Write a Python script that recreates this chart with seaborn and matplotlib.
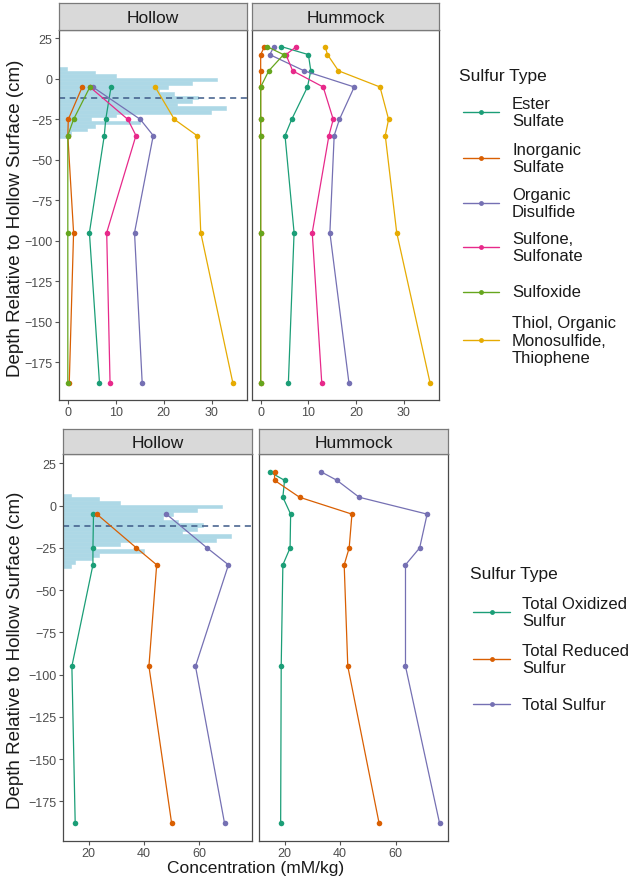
import numpy as np
import pandas as pd
import matplotlib
matplotlib.use("Agg")
import matplotlib.pyplot as plt
from matplotlib.lines import Line2D
import seaborn as sns

sns.set_theme(style="white")
plt.rcParams['font.family'] = ['Liberation Sans', 'DejaVu Sans']

# ---------------- data ----------------
hollow_depth = [-5, -25, -35, -95, -188]
hummock_depth = [20, 15, 5, -5, -25, -35, -95, -188]

species_types = ["Ester\nSulfate", "Inorganic\nSulfate", "Organic\nDisulfide",
                 "Sulfone,\nSulfonate", "Sulfoxide",
                 "Thiol, Organic\nMonosulfide,\nThiophene"]

hollow_ester = [9.0, 7.9, 7.6, 4.5, 6.6]
hollow_inorganic = [3.0, 0.1, 0.0, 1.2, 0.3]
hollow_disulfide = [5.2, 15.1, 17.8, 13.9, 15.5]
hollow_sulfone = [4.6, 12.5, 14.2, 8.1, 8.8]
hollow_sulfoxide = [4.6, 1.2, 0.0, 0.0, 0.0]
hollow_thiol = [18.2, 22.2, 26.9, 27.7, 34.4]

hummock_ester = [4.3, 10.0, 10.5, 9.8, 6.5, 5.1, 7.0, 5.8]
hummock_inorganic = [0.8, 0.0, 0.0, 0.0, 0.0, 0.0, 0.0, 0.0]
hummock_disulfide = [2.8, 1.9, 9.1, 19.6, 16.5, 15.4, 14.5, 18.5]
hummock_sulfone = [7.5, 5.3, 6.7, 13.1, 15.2, 14.3, 10.8, 12.8]
hummock_sulfoxide = [1.3, 4.8, 1.7, 0.0, 0.0, 0.0, 0.0, 0.0]
hummock_thiol = [13.5, 14.0, 16.3, 25.0, 26.8, 26.1, 28.5, 35.5]

total_types = ["Total Oxidized\nSulfur", "Total Reduced\nSulfur", "Total Sulfur"]
hollow_oxidized = [21.8, 21.6, 21.6, 14.0, 15.2]
hollow_reduced = [23.0, 37.3, 44.6, 41.8, 50.0]
hollow_total = [48.1, 62.8, 70.5, 58.6, 69.1]
hummock_oxidized = [14.6, 20.0, 19.4, 22.2, 22.0, 19.4, 18.8, 18.6]
hummock_reduced = [16.4, 16.4, 25.4, 44.3, 43.3, 41.5, 42.8, 54.1]
hummock_total = [33.2, 38.9, 46.9, 71.4, 68.7, 63.6, 63.6, 75.9]

# hollow surface elevation distribution (relative frequency, top bin first)
surface_bin_top = 7.2
surface_bin_width = 2.2
surface_freq = [0.04, 0.19, 0.30, 0.84, 0.71, 0.58, 0.53, 0.61, 0.74, 0.71,
                0.63, 0.89, 0.81, 0.30, 0.17, 0.43, 0.19, 0.15, 0.06, 0.04]
mean_hollow_surface = -12

palette6 = dict(zip(species_types, sns.color_palette("Dark2", 6)))
palette3 = dict(zip(total_types, sns.color_palette("Dark2", 3)))


def long_frame(depths, series, names, site):
    rows = []
    for name, vals in zip(names, series):
        for d, v in zip(depths, vals):
            rows.append({"Site": site, "Depth": d, "Type": name, "Conc": v})
    return pd.DataFrame(rows)


top_df = pd.concat([
    long_frame(hollow_depth, [hollow_ester, hollow_inorganic, hollow_disulfide,
                              hollow_sulfone, hollow_sulfoxide, hollow_thiol],
               species_types, "Hollow"),
    long_frame(hummock_depth, [hummock_ester, hummock_inorganic, hummock_disulfide,
                               hummock_sulfone, hummock_sulfoxide, hummock_thiol],
               species_types, "Hummock"),
])
bot_df = pd.concat([
    long_frame(hollow_depth, [hollow_oxidized, hollow_reduced, hollow_total],
               total_types, "Hollow"),
    long_frame(hummock_depth, [hummock_oxidized, hummock_reduced, hummock_total],
               total_types, "Hummock"),
])

# ---------------- layout ----------------
W, H = 635, 879
fig = plt.figure(figsize=(W / 100, H / 100), dpi=100)
fig.patch.set_facecolor("white")


def px_axes(x0, y0, x1, y1):
    return fig.add_axes([x0 / W, 1 - y1 / H, (x1 - x0) / W, (y1 - y0) / H])


def expanded(vals, frac=0.05):
    lo, hi = min(vals), max(vals)
    pad = (hi - lo) * frac
    return lo - pad, hi + pad


border = "#4a4a4a"
tick_col = "#4d4d4d"


def style_panel(ax, show_y):
    for s in ax.spines.values():
        s.set_visible(True)
        s.set_color(border)
        s.set_linewidth(0.9)
    ax.grid(False)
    ax.set_facecolor("white")
    ax.tick_params(axis="both", which="both", length=3, width=0.8,
                   color="#555555", labelsize=9, labelcolor=tick_col, pad=2,
                   bottom=True, left=show_y)
    ax.tick_params(axis="x", pad=1.5)
    if not show_y:
        ax.set_yticklabels([])
    ax.set_xlabel("")
    ax.set_ylabel("")


def strip(x0, y0, x1, y1, label):
    sax = px_axes(x0, y0, x1, y1)
    sax.set_facecolor("#d9d9d9")
    for s in sax.spines.values():
        s.set_color("#7a7a7a")
        s.set_linewidth(0.9)
    sax.set_xticks([])
    sax.set_yticks([])
    sax.text(0.5, 0.47, label, ha="center", va="center", fontsize=12.5,
             color="#1a1a1a", transform=sax.transAxes)


def draw_row(df, palette, boxes, strip_y, xticks):
    xlim = expanded(df["Conc"].tolist())
    ylim = expanded(df["Depth"].tolist())
    yticks = [25, 0, -25, -50, -75, -100, -125, -150, -175]
    for i, (site, box) in enumerate(zip(["Hollow", "Hummock"], boxes)):
        ax = px_axes(*box)
        sub = df[df["Site"] == site].sort_values(["Type", "Depth"], ascending=[True, False])
        if site == "Hollow":
            span = xlim[1] - xlim[0]
            tops = surface_bin_top - surface_bin_width * np.arange(len(surface_freq))
            ax.barh(tops - surface_bin_width / 2, np.array(surface_freq) * span,
                    left=xlim[0], height=surface_bin_width, color="#add8e6",
                    edgecolor="#add8e6", linewidth=0.4, zorder=1)
            ax.axhline(mean_hollow_surface, color="#3d5a87", lw=1.1,
                       ls=(0, (4, 3)), zorder=2)
        sns.lineplot(data=sub, x="Conc", y="Depth", hue="Type", palette=palette,
                     hue_order=list(palette.keys()), sort=False, estimator=None,
                     units="Type", marker="o", markersize=4, markeredgewidth=0,
                     linewidth=0.9, legend=False, ax=ax, zorder=3)
        ax.set_xlim(*xlim)
        ax.set_ylim(*ylim)
        ax.set_xticks(xticks)
        ax.set_yticks(yticks)
        style_panel(ax, show_y=(i == 0))
        strip(box[0], strip_y[0], box[2], strip_y[1], site)


draw_row(top_df, palette6,
         [(59.3, 30.7, 246.7, 401), (252.2, 30.7, 438.6, 401)],
         (4, 30.7), [0, 10, 20, 30])
draw_row(bot_df, palette3,
         [(63.3, 455.3, 252, 842), (259.3, 455.3, 448.2, 842)],
         (430, 455.3), [20, 40, 60])

# axis titles
ylab = "Depth Relative to Hollow Surface (cm)"
fig.text(16 / W, 1 - 218 / H, ylab, rotation=90, ha="center", va="center",
         fontsize=13.5, color="#1a1a1a")
fig.text(16 / W, 1 - 650 / H, ylab, rotation=90, ha="center", va="center",
         fontsize=13.5, color="#1a1a1a")
fig.text(255.7 / W, 1 - 869 / H, "Concentration (mM/kg)", ha="center",
         va="center", fontsize=12.5, color="#1a1a1a")


# legends
def legend_block(title, title_xy, palette, centres, line_x, text_x):
    fig.text(title_xy[0] / W, 1 - title_xy[1] / H, title, ha="left",
             va="center", fontsize=12.5, color="#1a1a1a")
    for (name, col), cy in zip(palette.items(), centres):
        y = 1 - cy / H
        fig.add_artist(Line2D([line_x[0] / W, line_x[1] / W], [y, y], color=col,
                              lw=1.0, transform=fig.transFigure))
        fig.add_artist(Line2D([(line_x[0] + line_x[1]) / 2 / W], [y], color=col,
                              marker="o", markersize=3.5, markeredgewidth=0,
                              transform=fig.transFigure))
        fig.text(text_x / W, y, name, ha="left", va="center", fontsize=12,
                 color="#1a1a1a", linespacing=1.2)


legend_block("Sulfur Type", (459, 77), palette6,
             [113, 159, 204, 248, 293, 341], (463, 499), 512)
legend_block("Sulfur Type", (470, 575), palette3,
             [613, 660, 705], (473, 510), 522)

fig.savefig("out.png", dpi=100, facecolor="white")
